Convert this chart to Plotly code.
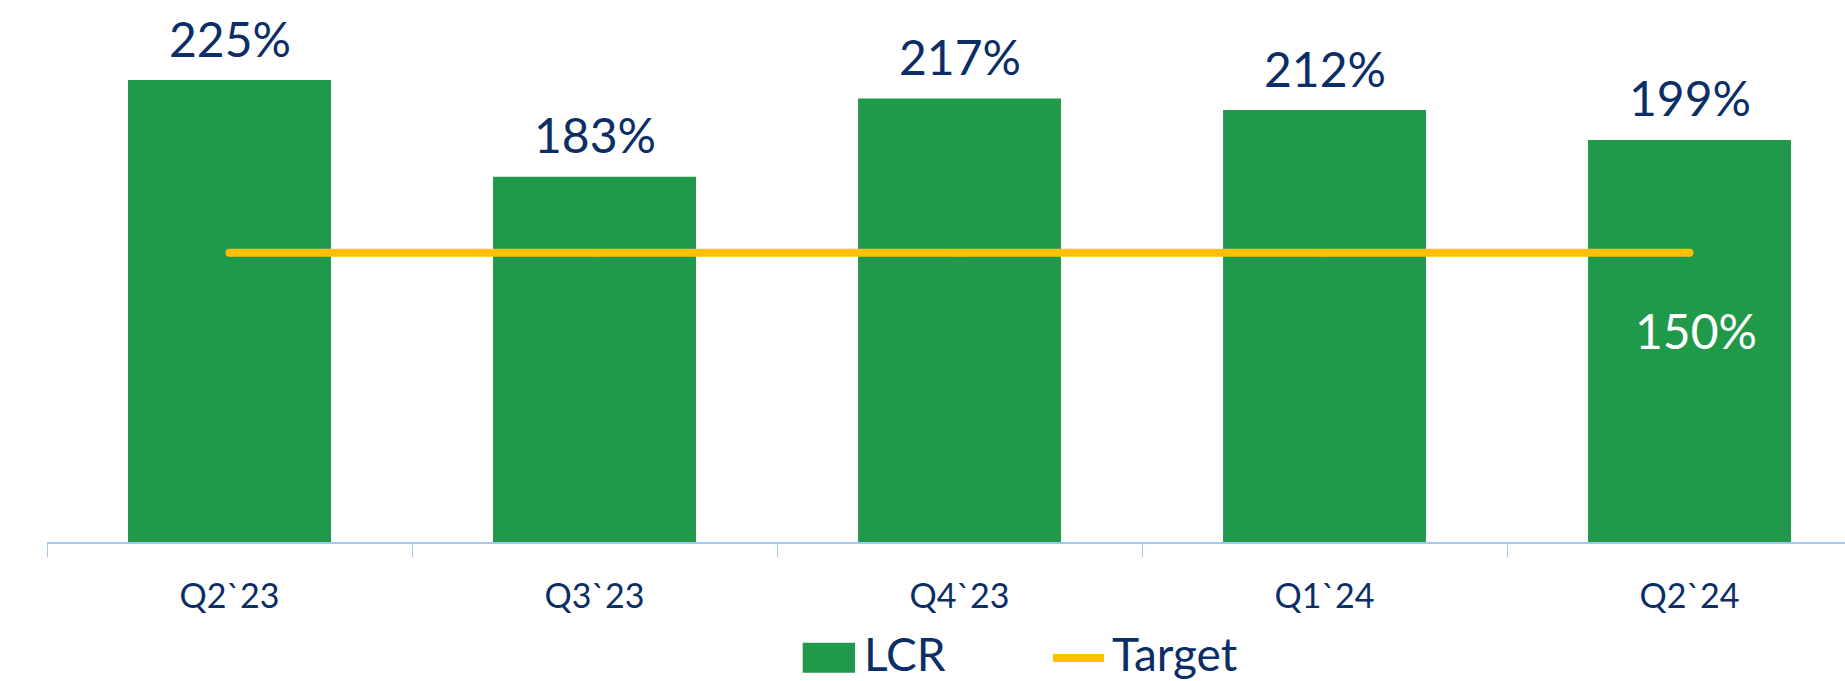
import plotly.graph_objects as go

categories = ["Q2`23", "Q3`23", "Q4`23", "Q1`24", "Q2`24"]
lcr_values = [225, 183, 217, 212, 199]
target_values = [150, 150, 150, 150, 150]
lcr_labels = ["225%", "183%", "217%", "212%", "199%"]
target_label = "150%"

GREEN = "#21994A"
YELLOW = "#FFC000"
NAVY = "#0B2E66"
AXIS_BLUE = "#A4C6F2"
FONT = "Lato"

fig = go.Figure()
fig.add_trace(go.Bar(
    x=categories, y=lcr_values, name="LCR",
    marker=dict(color=GREEN, line=dict(width=0)),
    width=0.556, showlegend=False,
))
fig.add_trace(go.Scatter(
    x=categories, y=target_values, name="Target",
    mode="lines+markers",
    line=dict(color=YELLOW, width=8),
    marker=dict(color=YELLOW, size=8, line=dict(width=0)),
    showlegend=False,
))

annotations = []
for c, v, t in zip(categories, lcr_values, lcr_labels):
    annotations.append(dict(
        x=c, y=v, xref="x", yref="y", text=t, showarrow=False,
        yanchor="middle", yshift=42,
        font=dict(family=FONT, size=48, color=NAVY),
    ))
annotations.append(dict(
    x=categories[-1], y=target_values[-1], xref="x", yref="y",
    text=target_label, showarrow=False, yanchor="middle",
    yshift=-78, xshift=6,
    font=dict(family=FONT, size=48, color="white"),
))

# manual legend
annotations.append(dict(
    x=0.4531, y=-0.2055, xref="paper", yref="paper", text="LCR",
    showarrow=False, xanchor="left", yanchor="middle",
    font=dict(family=FONT, size=46, color=NAVY),
))
annotations.append(dict(
    x=0.5912, y=-0.2055, xref="paper", yref="paper", text="Target",
    showarrow=False, xanchor="left", yanchor="middle",
    font=dict(family=FONT, size=46, color=NAVY),
))
shapes = [
    dict(type="rect", xref="paper", yref="paper",
         x0=0.4203, x1=0.4494, y0=-0.2411, y1=-0.1858,
         fillcolor=GREEN, line=dict(width=0)),
    dict(type="line", xref="paper", yref="paper",
         x0=0.5595, x1=0.5879, y0=-0.214, y1=-0.214,
         line=dict(color=YELLOW, width=8)),
]

fig.update_layout(
    width=1845, height=681,
    margin=dict(l=47, r=0, t=0, b=139),
    paper_bgcolor="white", plot_bgcolor="white",
    annotations=annotations, shapes=shapes,
    showlegend=False,
    font=dict(family=FONT, color=NAVY),
)
fig.update_xaxes(
    type="category", range=[-0.5, 4.426],
    showline=True, linecolor=AXIS_BLUE, linewidth=2,
    ticks="outside", tickson="boundaries", ticklen=13,
    tickcolor=AXIS_BLUE, tickwidth=1,
    tickfont=dict(family=FONT, size=34, color=NAVY),
    ticklabelstandoff=23,
    showgrid=False, zeroline=False,
)
fig.update_yaxes(
    range=[24.3, 259.8], visible=False, showgrid=False, zeroline=False,
)

fig.write_html(
    "out.html",
    config={"displayModeBar": False},
    post_script="document.body.style.margin='0';document.body.style.overflow='hidden';",
)
